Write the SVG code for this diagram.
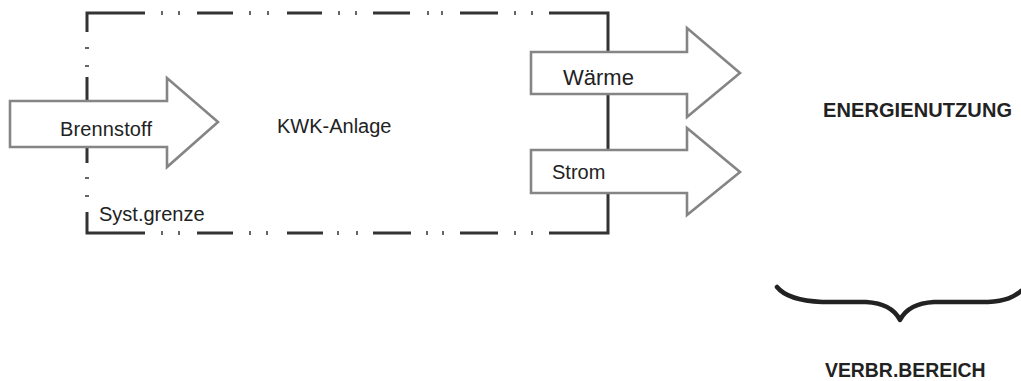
<svg xmlns="http://www.w3.org/2000/svg" width="1021" height="381" viewBox="0 0 1021 381">
<style>
.bd{stroke:#333;stroke-width:3;fill:none}
.dot{fill:#666}
.arr{fill:#fff;stroke:#858585;stroke-width:2.6;stroke-linejoin:miter}
.t{font-family:"Liberation Sans",Arial,sans-serif;font-size:20px;fill:#222}
.b{font-family:"Liberation Sans",Arial,sans-serif;font-size:20px;font-weight:bold;fill:#222}
.brace{fill:none;stroke:#222;stroke-width:4.5;stroke-linecap:round;stroke-linejoin:round}
</style>
<rect width="1021" height="381" fill="#fff"/>
<g id="systemgrenze">
<path class="bd" d="M87,32 V13 H145 M197,13 H233 M287,13 H322 M373,13 H410 M460,13 H498 M549,13 H608 V233 H549 M498,233 H460 M411,233 H373 M323,233 H287 M233,233 H197 M145,233 H87 V212 M87,163 V77"/>
<g class="dot">
<rect x="161" y="11" width="2" height="4"/><rect x="178" y="11" width="2" height="4"/>
<rect x="249" y="11" width="2" height="4"/><rect x="267" y="11" width="2" height="4"/>
<rect x="338" y="11" width="2" height="4"/><rect x="355" y="11" width="2" height="4"/>
<rect x="427" y="11" width="2" height="4"/><rect x="441" y="11" width="2" height="4"/>
<rect x="514" y="11" width="2" height="4"/><rect x="531" y="11" width="2" height="4"/>
<rect x="161" y="231" width="2" height="4"/><rect x="178" y="231" width="2" height="4"/>
<rect x="249" y="231" width="2" height="4"/><rect x="266" y="231" width="2" height="4"/>
<rect x="337" y="231" width="2" height="4"/><rect x="356" y="231" width="2" height="4"/>
<rect x="426" y="231" width="2" height="4"/><rect x="442" y="231" width="2" height="4"/>
<rect x="514" y="231" width="2" height="4"/><rect x="531" y="231" width="2" height="4"/>
<rect x="85" y="47" width="4" height="2"/><rect x="85" y="65" width="4" height="2"/>
<rect x="85" y="177" width="4" height="2"/><rect x="85" y="195" width="4" height="2"/>
</g>
<text class="t" x="99" y="221">Syst.grenze</text>
</g>
<g id="connectors">
<polygon id="arrow-brennstoff" class="arr" points="10,101 167,101 167,78 218,122 167,167 167,147 10,147"/>
<polygon id="arrow-waerme" class="arr" points="531,52 687,52 687,28 740,73 687,117 687,94 531,94"/>
<polygon id="arrow-strom" class="arr" points="531,150 687,150 687,128 740,172 687,215 687,193 531,193"/>
</g>
<g id="brennstoff"><text class="t" x="60" y="136" textLength="92">Brennstoff</text></g>
<g id="kwk-anlage"><text class="t" x="277" y="133">KWK-Anlage</text></g>
<g id="waerme"><text class="t" x="563" y="85" style="font-size:22px">Wärme</text></g>
<g id="strom"><text class="t" x="552" y="179">Strom</text></g>
<g id="energienutzung"><text class="b" x="823" y="117" textLength="189">ENERGIENUTZUNG</text></g>
<g id="verbrbereich">
<path class="brace" d="M777,287 C785,297 800,301 822,302 L866,302 C884,303 895,310 900,320 C905,310 916,303 934,302 L988,302 C1006,301 1014,297 1021,291"/>
<text class="b" x="825" y="377" style="font-size:19.4px">VERBR.BEREICH</text>
</g>
</svg>
